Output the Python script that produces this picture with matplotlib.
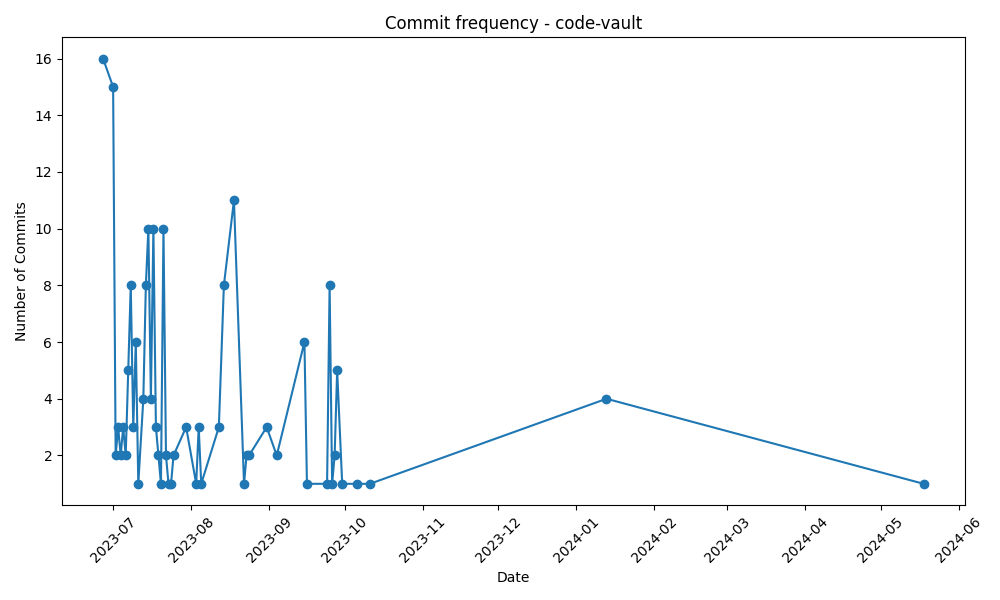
import matplotlib
matplotlib.use("Agg")
import matplotlib.pyplot as plt
import pandas as pd

# commits per day
dates = [
    "2023-06-27", "2023-07-01", "2023-07-02", "2023-07-03", "2023-07-04",
    "2023-07-05", "2023-07-06", "2023-07-07", "2023-07-08", "2023-07-09",
    "2023-07-10", "2023-07-11", "2023-07-13", "2023-07-14", "2023-07-15",
    "2023-07-16", "2023-07-17", "2023-07-18", "2023-07-19", "2023-07-20",
    "2023-07-21", "2023-07-22", "2023-07-23", "2023-07-24", "2023-07-25",
    "2023-07-30", "2023-08-03", "2023-08-04", "2023-08-05", "2023-08-12",
    "2023-08-14", "2023-08-18", "2023-08-22", "2023-08-23", "2023-08-24",
    "2023-08-31", "2023-09-04", "2023-09-15", "2023-09-16", "2023-09-24",
    "2023-09-25", "2023-09-26", "2023-09-27", "2023-09-28", "2023-09-30",
    "2023-10-06", "2023-10-11", "2024-01-13", "2024-05-18",
]
commits = [
    16, 15, 2, 3, 2,
    3, 2, 5, 8, 3,
    6, 1, 4, 8, 10,
    4, 10, 3, 2, 1,
    10, 2, 1, 1, 2,
    3, 1, 3, 1, 3,
    8, 11, 1, 2, 2,
    3, 2, 6, 1, 1,
    8, 1, 2, 5, 1,
    1, 1, 4, 1,
]

x = pd.to_datetime(dates)

fig, ax = plt.subplots(figsize=(10, 6), dpi=100)
ax.plot(x, commits, marker="o")
ax.set_title("Commit frequency - code-vault")
ax.set_xlabel("Date")
ax.set_ylabel("Number of Commits")
plt.xticks(rotation=45)
plt.tight_layout()
plt.savefig("out.png")
